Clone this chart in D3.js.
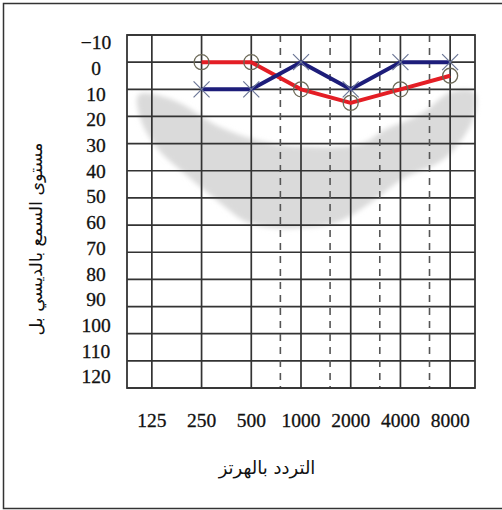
<!DOCTYPE html>
<html><head><meta charset="utf-8">
<script src="https://cdn.jsdelivr.net/npm/d3@7"></script>
<style>html,body{margin:0;padding:0;background:#fff;} svg{display:block;}</style>
</head><body>
<svg id="c" width="502" height="510"></svg>
<script>
// ---- data ----
const frequencies = [125, 250, 500, 1000, 2000, 4000, 8000];
const freqLabels = ["125", "250", "500", "1000", "2000", "4000", "8000"];
const halfOctaves = [750, 1500, 3000, 6000];
const dbTicks = [-10, 0, 10, 20, 30, 40, 50, 60, 70, 80, 90, 100, 110, 120];
const dbLabels = ["\u221210", "0", "10", "20", "30", "40", "50", "60", "70", "80", "90", "100", "110", "120"];
const earFreq = [250, 500, 1000, 2000, 4000, 8000];
const rightEarDb = [0, 0, 10, 15, 10, 5];   // red, circles
const leftEarDb = [10, 10, 0, 10, 0, 0];    // blue, crosses
const bananaUpper = [[104,12],[169,14],[325,24],[566,29],[986,31],[2330,30],[3204,25],[5352,19],[8100,11],[11160,11]];
const bananaLower = [[11160,20],[7568,35],[4111,43],[2603,52],[1647,59],[986,61],[679,61],[473,59],[312,51],[206,42],[136,32],[107,21]];
const xTitle = "التردد بالهرتز";
const yTitle = "مستوى السمع بالديسي بل";

// ---- layout ----
const svg = d3.select("#c");
const plot = {left: 127, right: 475, top: 35, bottom: 388};
const x = d3.scaleLog().base(2).domain([125 / Math.SQRT2, 8000 * Math.SQRT2]).range([plot.left, plot.right]);
const y = d3.scaleLinear().domain([-10, 120]).range([plot.top, plot.bottom]);
const yLab = d3.scaleLinear().domain([-10, 120]).range([42.5, 376.5]);

// outer frame
svg.append("rect").attr("x", 3.5).attr("y", 3.5).attr("width", 520).attr("height", 505)
  .attr("fill", "none").attr("stroke", "#333").attr("stroke-width", 1.5);

// blur filter
const defs = svg.append("defs");
defs.append("filter").attr("id", "blur").attr("x", "-10%").attr("y", "-10%").attr("width", "120%").attr("height", "120%")
  .append("feGaussianBlur").attr("stdDeviation", 2.5);

// speech banana
const banana = bananaUpper.concat(bananaLower);
svg.append("path")
  .attr("d", d3.line().x(d => x(d[0])).y(d => y(d[1])).curve(d3.curveCatmullRomClosed)(banana))
  .attr("fill", "#dadada").attr("filter", "url(#blur)");

// grid
const g = svg.append("g");
g.selectAll("line.h").data(dbTicks).join("line").attr("class", "h")
  .attr("x1", plot.left).attr("x2", plot.right).attr("y1", d => y(d)).attr("y2", d => y(d))
  .attr("stroke", "#333").attr("stroke-width", 1.7);
g.selectAll("line.v").data(frequencies).join("line").attr("class", "v")
  .attr("x1", d => x(d)).attr("x2", d => x(d)).attr("y1", plot.top).attr("y2", plot.bottom)
  .attr("stroke", "#333").attr("stroke-width", 1.7);
g.selectAll("line.d").data(halfOctaves).join("line").attr("class", "d")
  .attr("x1", d => x(d)).attr("x2", d => x(d)).attr("y1", plot.top).attr("y2", plot.bottom)
  .attr("stroke", "#555").attr("stroke-width", 1.6).attr("stroke-dasharray", "7,6");
g.append("rect").attr("x", plot.left).attr("y", plot.top)
  .attr("width", plot.right - plot.left).attr("height", plot.bottom - plot.top)
  .attr("fill", "none").attr("stroke", "#333").attr("stroke-width", 1.8);

// series lines
const line = d3.line().x((d, i) => x(earFreq[i])).y(d => y(d));
svg.append("path").attr("d", line(rightEarDb)).attr("fill", "none")
  .attr("stroke", "#e41e25").attr("stroke-width", 4).attr("stroke-linejoin", "round");
svg.append("path").attr("d", line(leftEarDb)).attr("fill", "none")
  .attr("stroke", "#1d1d7a").attr("stroke-width", 4).attr("stroke-linejoin", "round");

// markers
svg.selectAll("circle.m").data(rightEarDb).join("circle").attr("class", "m")
  .attr("cx", (d, i) => x(earFreq[i])).attr("cy", d => y(d)).attr("r", 7.5)
  .attr("fill", "none").attr("stroke", "#6d6a58").attr("stroke-width", 1.3);
const s = 8;
const xm = svg.selectAll("g.x").data(leftEarDb).join("g").attr("class", "x")
  .attr("transform", (d, i) => `translate(${x(earFreq[i])},${y(d)})`);
xm.append("path").attr("d", `M${-s},${-s}L${s},${s}M${-s},${s}L${s},${-s}`)
  .attr("stroke", "#6b7696").attr("stroke-width", 1.2).attr("fill", "none");

// tick labels
svg.selectAll("text.yl").data(dbTicks).join("text").attr("class", "yl")
  .attr("x", 96).attr("y", d => yLab(d)).attr("dy", "0.35em")
  .attr("text-anchor", "middle").attr("font-family", "Liberation Serif").attr("font-size", 19.5)
  .attr("fill", "#111").attr("stroke", "#111").attr("stroke-width", 0.3)
  .text((d, i) => dbLabels[i]);
svg.selectAll("text.xl").data(frequencies).join("text").attr("class", "xl")
  .attr("x", d => x(d)).attr("y", y(120) + 39)
  .attr("text-anchor", "middle").attr("font-family", "Liberation Serif").attr("font-size", 19.5)
  .attr("fill", "#111").attr("stroke", "#111").attr("stroke-width", 0.3)
  .text((d, i) => freqLabels[i]);

// titles
svg.append("text").attr("x", 267).attr("y", 474).attr("text-anchor", "middle")
  .attr("font-family", "DejaVu Sans").attr("font-size", 18).attr("fill", "#111")
  .attr("direction", "rtl").text(xTitle);
svg.append("text").attr("transform", "translate(42,239) rotate(-90)").attr("text-anchor", "middle")
  .attr("font-family", "DejaVu Sans").attr("font-size", 17.5).attr("fill", "#111")
  .attr("direction", "rtl").text(yTitle);
</script>
</body></html>
